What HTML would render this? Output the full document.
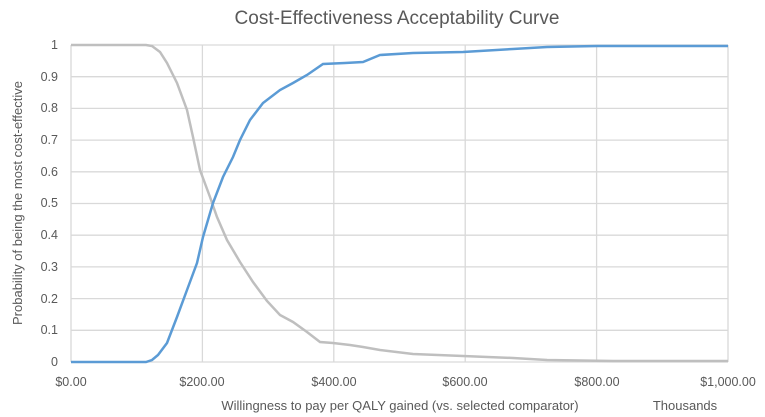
<!DOCTYPE html>
<html><head><style>
body{margin:0;background:#fff;}
svg{display:block;font-family:"Liberation Sans",sans-serif;}
</style></head><body>
<svg width="765" height="417" xmlns="http://www.w3.org/2000/svg">
<rect width="765" height="417" fill="#fff"/>
<text x="397" y="24" font-size="19" fill="#595959" text-anchor="middle">Cost-Effectiveness Acceptability Curve</text>
<g stroke="#d9d9d9" stroke-width="1.3">
<line x1="71" y1="45" x2="728" y2="45"/><line x1="71" y1="76.7" x2="728" y2="76.7"/>
<line x1="71" y1="108.4" x2="728" y2="108.4"/><line x1="71" y1="140.1" x2="728" y2="140.1"/>
<line x1="71" y1="171.8" x2="728" y2="171.8"/><line x1="71" y1="203.5" x2="728" y2="203.5"/>
<line x1="71" y1="235.2" x2="728" y2="235.2"/><line x1="71" y1="266.9" x2="728" y2="266.9"/>
<line x1="71" y1="298.6" x2="728" y2="298.6"/><line x1="71" y1="330.3" x2="728" y2="330.3"/>
<line x1="202.4" y1="45" x2="202.4" y2="362"/><line x1="333.8" y1="45" x2="333.8" y2="362"/>
<line x1="465.2" y1="45" x2="465.2" y2="362"/><line x1="596.6" y1="45" x2="596.6" y2="362"/>
<line x1="728" y1="45" x2="728" y2="362"/>
<line x1="71" y1="45" x2="71" y2="362"/><line x1="71" y1="362" x2="728" y2="362"/>
</g>
<g font-size="12.5" fill="#595959" text-anchor="end">
<text x="58" y="49">1</text><text x="58" y="81">0.9</text><text x="58" y="112">0.8</text>
<text x="58" y="144">0.7</text><text x="58" y="176">0.6</text><text x="58" y="207">0.5</text>
<text x="58" y="239">0.4</text><text x="58" y="271">0.3</text><text x="58" y="303">0.2</text>
<text x="58" y="334">0.1</text><text x="58" y="366">0</text>
</g>
<g font-size="12.5" fill="#595959" text-anchor="middle">
<text x="71" y="386">$0.00</text><text x="202" y="386">$200.00</text><text x="334" y="386">$400.00</text>
<text x="465" y="386">$600.00</text><text x="597" y="386">$800.00</text><text x="728" y="386">$1,000.00</text>
</g>
<text x="400" y="410" font-size="13" fill="#595959" text-anchor="middle">Willingness to pay per QALY gained (vs. selected comparator)</text>
<text x="685" y="410" font-size="13" fill="#595959" text-anchor="middle">Thousands</text>
<text transform="translate(22,203) rotate(-90)" font-size="13" fill="#595959" text-anchor="middle">Probability of being the most cost-effective</text>
<polyline fill="none" stroke="#bfbfbf" stroke-width="2.5" points="71,45 146,45 152,46 160,52 167,63 177,83 187,110 193,137 200,170 210,197 217,217 227,240 240,262 253,282 267,301 280,315 293,322 307,332 320,342 333,343 350,345 363,347 380,350 413,354 463,356 513,358 547,360 613,361 728,361"/>
<polyline fill="none" stroke="#5b9bd5" stroke-width="2.5" points="71,362 146,362 152,360 158,355 167,343 177,317 187,290 197,263 203,237 213,203 223,177 233,157 240,140 250,120 263,103 280,90 293,83 307,75 323,64 345,63 363,62 380,55 413,53 463,52 513,49 547,47 597,46 728,46"/>
</svg>
</body></html>
